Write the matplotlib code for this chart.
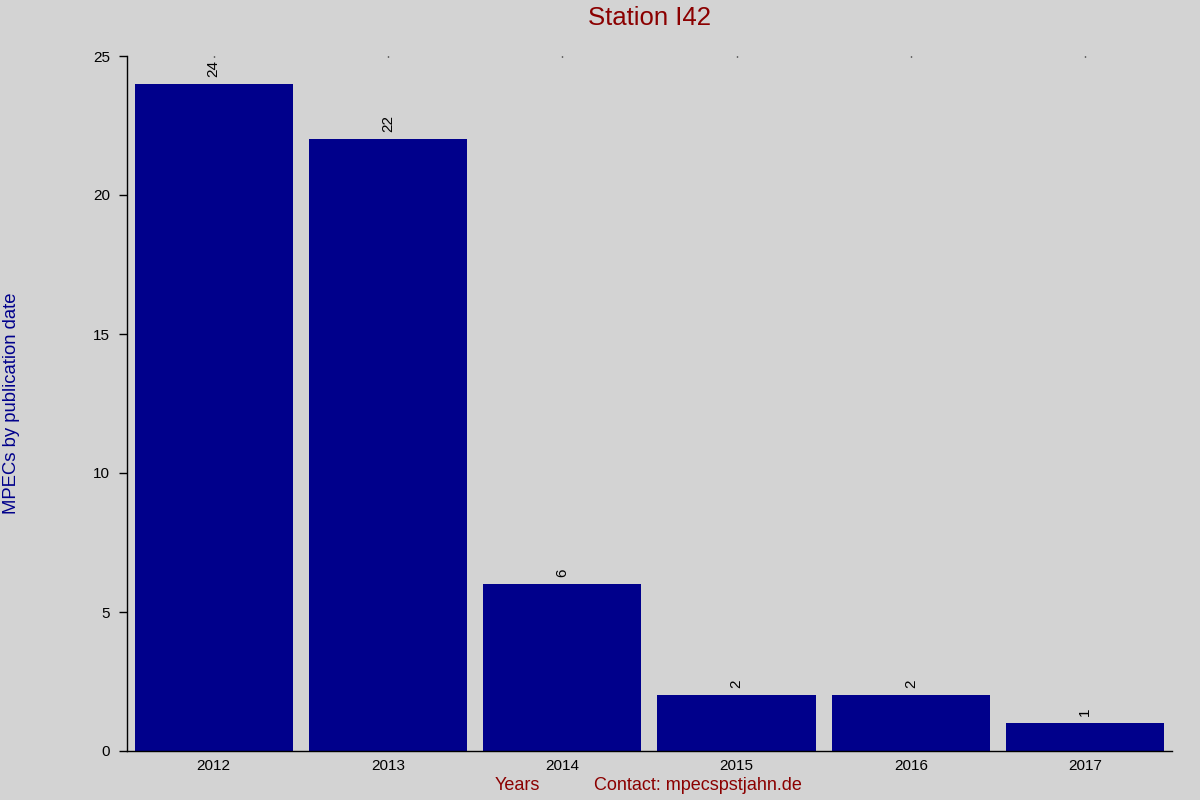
import matplotlib
matplotlib.use('Agg')
import matplotlib.pyplot as plt
import numpy as np

plt.rcParams['font.family'] = ['Liberation Sans', 'DejaVu Sans']

years = ['2012', '2013', '2014', '2015', '2016', '2017']
counts = [24, 22, 6, 2, 2, 1]

bg = '#d3d3d3'
fig = plt.figure(figsize=(12, 8), dpi=100, facecolor=bg)
ax = fig.add_axes([0.1055, 0.06125, 0.8713, 0.86875])
ax.set_facecolor(bg)

x = np.arange(len(years))
ax.bar(x, counts, width=0.908, color='#00008b')

# value labels above the bars
for xi, c in zip(x, counts):
    ax.annotate(str(c), (xi, c), xytext=(0, 5), textcoords='offset points',
                rotation=90, ha='center', va='bottom', fontsize=11)

ax.set_xlim(-0.5, len(years) - 0.5)
ax.set_ylim(0, 25)
ax.set_xticks(x)
ax.set_xticklabels(years)
ax.set_yticks([0, 5, 10, 15, 20, 25])

for s in ['top', 'right']:
    ax.spines[s].set_visible(False)
ax.spines['left'].set_linewidth(1)
ax.spines['bottom'].set_linewidth(1)

ax.tick_params(axis='y', length=6, width=1, pad=6, labelsize=11)
ax.tick_params(axis='x', bottom=False, top=True, length=1, width=1,
               direction='in', pad=6, labelsize=11)

fig.text(0.541, 0.9775, 'Station I42', color='#8b0000', fontsize=18.5,
         ha='center', va='center')
fig.text(0.0095, 0.496, 'MPECs by publication date', color='#00008b',
         fontsize=13.3, rotation=90, ha='center', va='center')
fig.text(0.431, 0.0175, 'Years', color='#8b0000', fontsize=13,
         ha='center', va='center')
fig.text(0.5817, 0.0175, 'Contact: mpecspstjahn.de', color='#8b0000',
         fontsize=13, ha='center', va='center')

fig.savefig('out.png', dpi=100, facecolor=bg)
